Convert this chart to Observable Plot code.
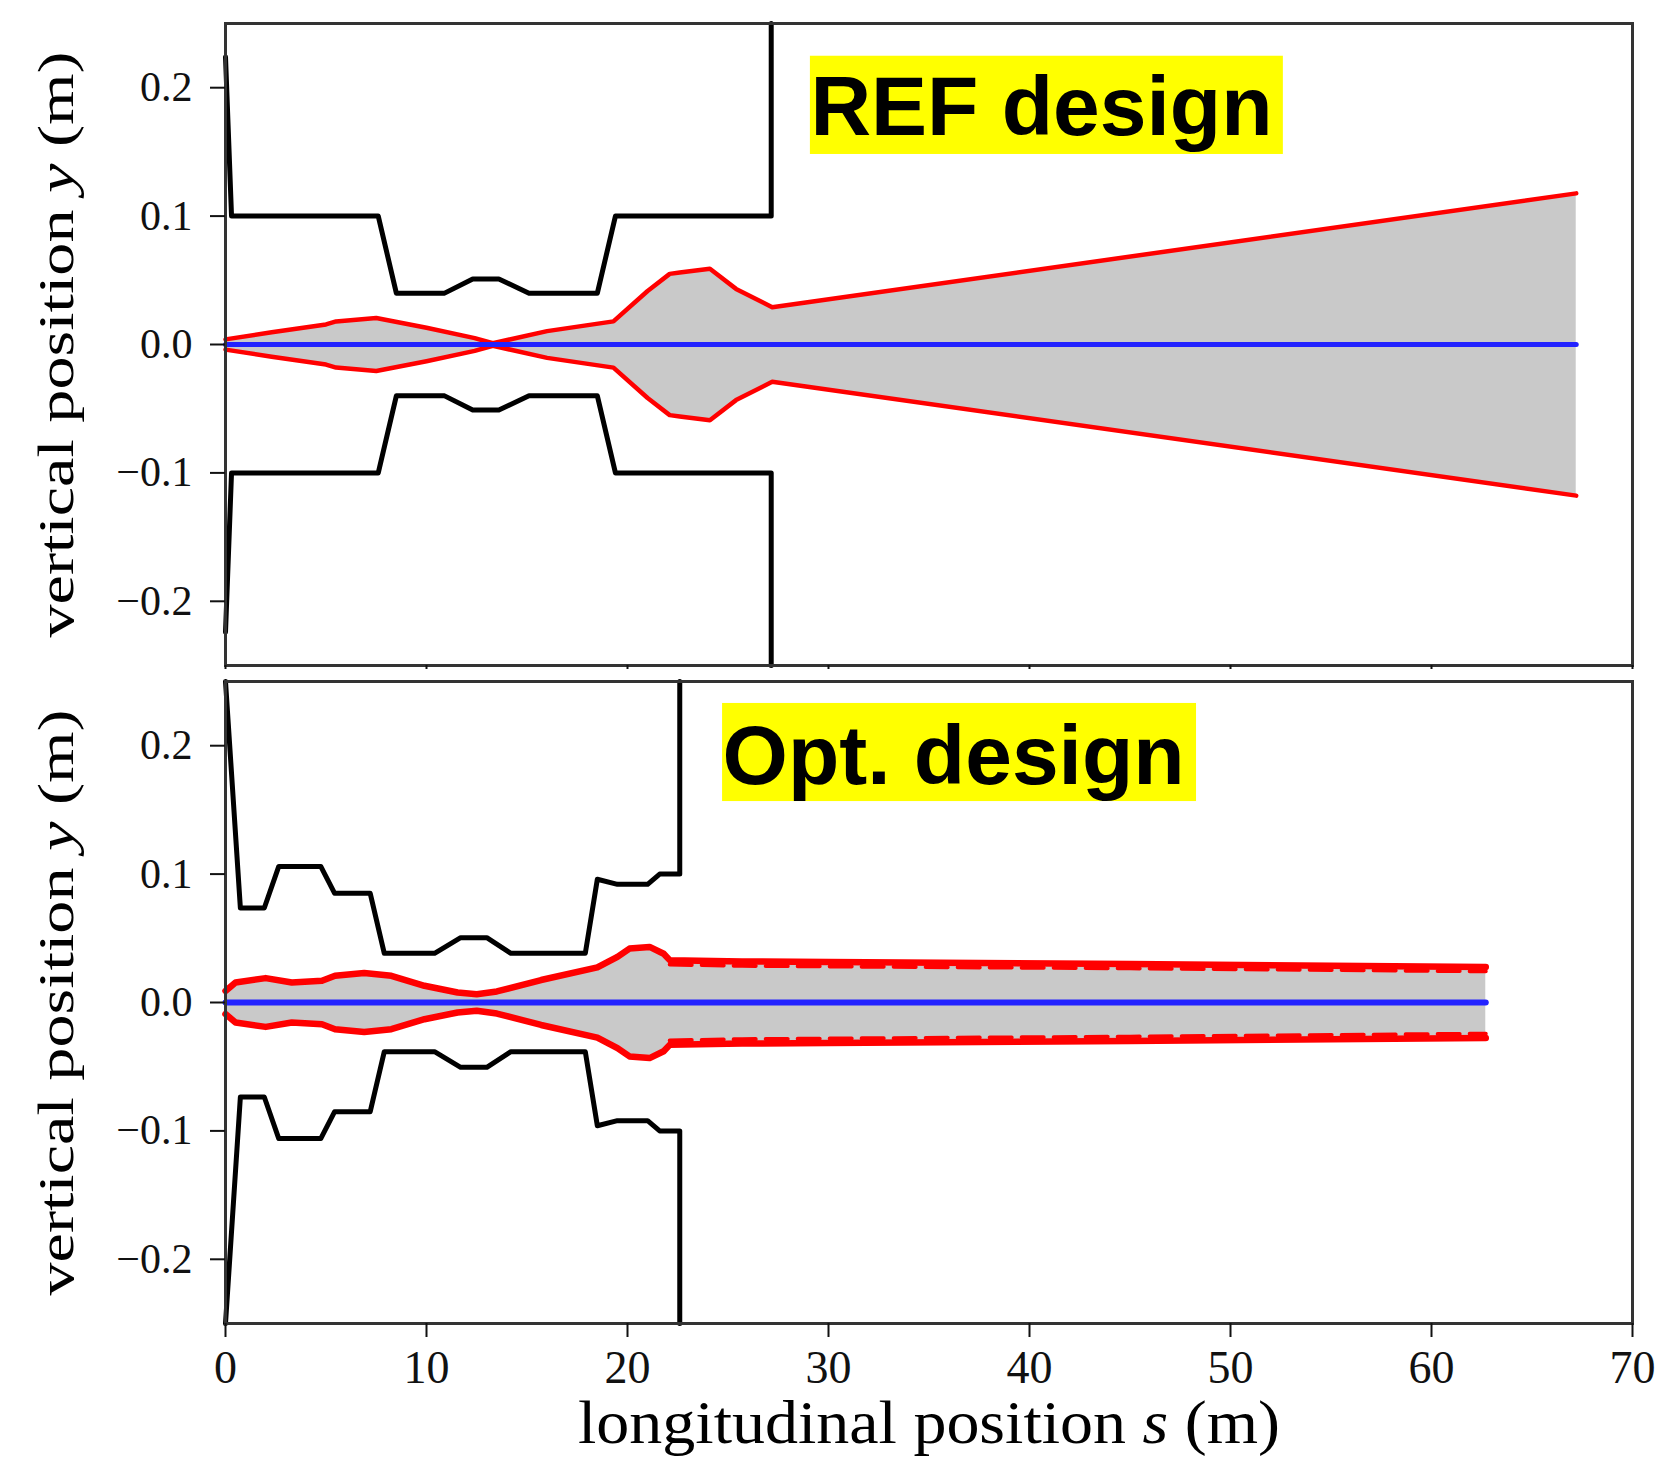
<!DOCTYPE html>
<html>
<head>
<meta charset="utf-8">
<script src="https://cdn.jsdelivr.net/npm/d3@7"></script>
<script src="https://cdn.jsdelivr.net/npm/@observablehq/plot@0.6"></script>
<style>
  html, body { margin: 0; padding: 0; background: #fff; }
  #chart { position: relative; width: 1656px; height: 1458px; }
  #chart svg { display: block; }
</style>
</head>
<body>
<div id="chart"></div>
<script>
// ---------------- data ----------------
const xTicks = [0, 10, 20, 30, 40, 50, 60, 70];
const yTicks = [-0.2, -0.1, 0.0, 0.1, 0.2];

// REF design: aperture half-height (m) vs s (m)
const refApertureS = [0, 0.3, 7.6, 8.5, 10.9, 12.3, 13.6, 15.1, 18.5, 19.4, 27.15, 27.15];
const refApertureA = [0.224, 0.1, 0.1, 0.04, 0.04, 0.051, 0.051, 0.04, 0.04, 0.1, 0.1, 0.25];
// REF design: beam envelope half-height (m)
const refBeamS = [0, 2.3, 5.0, 5.5, 7.5, 10.0, 12.4, 13.3, 16.0, 19.3, 21.0, 22.1, 22.6, 24.1, 25.4, 27.2, 67.2];
const refBeamA = [0.004, 0.0095, 0.0156, 0.018, 0.0207, 0.013, 0.005, 0.001, 0.0104, 0.018, 0.0417, 0.055, 0.056, 0.059, 0.0433, 0.029, 0.1177];

// Opt. design: aperture half-height (m)
const optApertureS = [0, 0.74, 1.93, 2.65, 4.74, 5.43, 7.2, 7.9, 10.4, 11.7, 13.0, 14.2, 17.9, 18.5, 19.5, 21.0, 21.6, 22.6, 22.6];
const optApertureA = [0.25, 0.0736, 0.0736, 0.106, 0.106, 0.085, 0.085, 0.0383, 0.0383, 0.0505, 0.0505, 0.0383, 0.0383, 0.096, 0.092, 0.092, 0.1, 0.1, 0.25];
// Opt. design: beam envelope half-height (m)
const optBeamS = [0, 0.5, 2.0, 3.3, 4.8, 5.45, 6.9, 8.25, 9.9, 11.55, 12.5, 13.5, 15.7, 18.5, 19.5, 20.1, 21.1, 21.8, 22.1, 25.7, 30, 45, 62.7];
const optBeamA = [0.009, 0.0156, 0.019, 0.0156, 0.0169, 0.0208, 0.0229, 0.0208, 0.013, 0.0078, 0.0065, 0.0086, 0.0175, 0.0273, 0.0355, 0.042, 0.0433, 0.038, 0.033, 0.032, 0.0315, 0.030, 0.0277];

const panelTitles = ["REF design", "Opt. design"];
const xLabel = "longitudinal position s (m)";
const yLabel = "vertical position y (m)";

// ---------------- drawing ----------------
const fmt = d3.format(".1f");
const rows = (S, A) => S.map((s, i) => ({s, a: A[i]}));

function panel({apS, apA, beamS, beamA, title, box, bottom}) {
  const ap = rows(apS, apA);
  const beam = rows(beamS, beamA);
  const tail = beam.filter(d => d.s >= 22.1);
  const redW = bottom ? 6.5 : 4.5;
  const marks = [
    Plot.areaY(beam, {x: "s", y1: d => -d.a, y2: d => d.a, fill: "#c9c9c9"}),
    Plot.line(ap, {x: "s", y: "a", stroke: "#000", strokeWidth: 5, strokeLinejoin: "round"}),
    Plot.line(ap, {x: "s", y: d => -d.a, stroke: "#000", strokeWidth: 5, strokeLinejoin: "round"}),
    Plot.line(beam, {x: "s", y: "a", stroke: "#ff0000", strokeWidth: redW}),
    Plot.line(beam, {x: "s", y: d => -d.a, stroke: "#ff0000", strokeWidth: redW}),
    bottom ? Plot.line(tail, {x: "s", y: d => d.a - 0.0034, stroke: "#ff0000", strokeWidth: 4, strokeDasharray: "22,10"}) : null,
    bottom ? Plot.line(tail, {x: "s", y: d => -d.a + 0.0034, stroke: "#ff0000", strokeWidth: 4, strokeDasharray: "22,10"}) : null,
    Plot.line(beam, {x: "s", y: () => 0, stroke: "#2222ff", strokeWidth: bottom ? 6 : 5}),
    Plot.rect([box], {x1: "x1", x2: "x2", y1: "y1", y2: "y2", fill: "#ffff00"}),
    Plot.text([{x: box.x1, y: box.ty, t: title}], {
      x: "x", y: "y", text: "t", textAnchor: "start", lineAnchor: "middle",
      fontFamily: "Liberation Sans, Arial, sans-serif", fontWeight: "bold", fontSize: 84, fill: "#000"
    }),
    Plot.frame({stroke: "#333", strokeWidth: 3}),
    Plot.axisY({ticks: yTicks, tickSize: 15, tickPadding: 18, tickFormat: fmt, fontSize: 42, label: null, strokeWidth: 2}),
    bottom
      ? Plot.axisX({ticks: xTicks, tickSize: 14, tickPadding: 13, fontSize: 46, label: null, strokeWidth: 2})
      : Plot.axisX({ticks: xTicks, tickSize: 4, tickFormat: () => "", label: null, strokeWidth: 2}),
    Plot.text([yLabel], {frameAnchor: "left", text: d => d, rotate: -90, dx: -169,
      textAnchor: "middle", lineAnchor: "middle", fontSize: 50, fill: "#000"}),
    bottom ? Plot.text([xLabel], {frameAnchor: "bottom", text: d => d, dy: 100,
      textAnchor: "middle", lineAnchor: "middle", fontSize: 62, fill: "#000"}) : null
  ].filter(Boolean);

  return Plot.plot({
    width: 1656,
    height: bottom ? 785 : 673,
    marginLeft: 225,
    marginRight: 24,
    marginTop: bottom ? 8 : 23,
    marginBottom: bottom ? 135 : 8,
    x: {domain: [0, 70]},
    y: {domain: [-0.25, 0.25]},
    style: {fontFamily: "Liberation Serif, 'Times New Roman', serif", background: "#fff", overflow: "visible", color: "#111"},
    marks
  });
}

const topPlot = panel({
  apS: refApertureS, apA: refApertureA, beamS: refBeamS, beamA: refBeamA,
  title: panelTitles[0],
  box: {x1: 29.1, x2: 52.63, y1: 0.148, y2: 0.2245, ty: 0.1838},
  bottom: false
});
const botPlot = panel({
  apS: optApertureS, apA: optApertureA, beamS: optBeamS, beamA: optBeamA,
  title: panelTitles[1],
  box: {x1: 24.73, x2: 48.31, y1: 0.1565, y2: 0.2329, ty: 0.191},
  bottom: true
});

const chart = document.getElementById("chart");
chart.appendChild(topPlot);
chart.appendChild(botPlot);

// italic math symbols in axis labels, and match label lengths
function styleLabel(svg, full, parts, length) {
  d3.select(svg).selectAll("text").filter(function () { return this.textContent === full; }).each(function () {
    const t = d3.select(this);
    t.text(null).style("white-space", "pre");
    parts.forEach(([str, it]) => t.append("tspan").attr("font-style", it ? "italic" : null).text(str));
    if (length) t.attr("textLength", length).attr("lengthAdjust", "spacingAndGlyphs");
  });
}
for (const svg of [topPlot, botPlot]) {
  styleLabel(svg, yLabel, [["vertical position ", false], ["y", true], [" (m)", false]], 586);
}
styleLabel(botPlot, xLabel, [["longitudinal position ", false], ["s", true], [" (m)", false]], 702);
</script>
</body>
</html>
